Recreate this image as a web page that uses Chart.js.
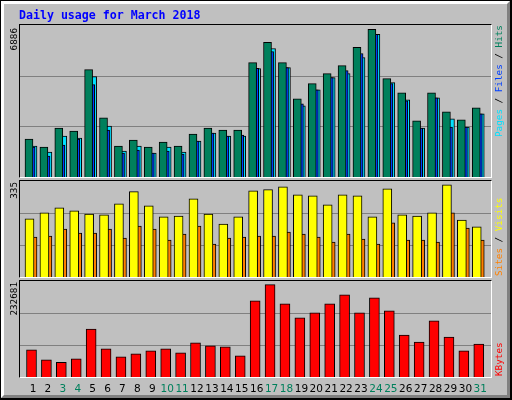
<!DOCTYPE html>
<html><head><meta charset="utf-8">
<script src="https://cdn.jsdelivr.net/npm/chart.js@4/dist/chart.umd.min.js"></script>
<style>
body{margin:0;background:#000;}
#outer{position:absolute;left:0;top:0;width:512px;height:400px;background:#000;}
#inner{position:absolute;left:1px;top:1px;width:503px;height:391px;background:#C0C0C0;border-top:3px solid #fff;border-left:3px solid #fff;border-right:3px solid #808080;border-bottom:3px solid #808080;}
.box{position:absolute;border-top:1px solid #000;border-left:1px solid #000;border-right:1px solid #fff;border-bottom:1px solid #fff;}
canvas{display:block;}
#ov{position:absolute;left:0;top:0;}
</style></head><body>
<div id="outer"><div id="inner"></div>
<div class="box" style="left:19px;top:24px;width:471px;height:152px;"><canvas id="c1" width="471" height="152" style="width:471px;height:152px"></canvas></div>
<div class="box" style="left:19px;top:180px;width:471px;height:96px;"><canvas id="c2" width="471" height="96" style="width:471px;height:96px"></canvas></div>
<div class="box" style="left:19px;top:280px;width:471px;height:96px;"><canvas id="c3" width="471" height="96" style="width:471px;height:96px"></canvas></div>
<canvas id="ov" width="512" height="400" style="width:512px;height:400px;pointer-events:none"></canvas>
</div>
<script>
const days = Array.from({length:31},(_,i)=>i+1);
const dayLabels = days.map(String);
const weekend = [3,4,10,11,17,18,24,25,31];
const hits = [1719,1354,2220,2084,4865,2676,1400,1673,1354,1582,1400,1947,2220,2130,2130,5185,6097,5185,3543,4227,4683,5048,5869,6690,4455,3817,2540,3817,2950,2585,3133];
const files = [1354,944,1446,1719,4182,2130,1081,1218,1081,1172,1035,1628,1993,1856,1902,4925,5687,4957,3315,3954,4501,4820,5595,6462,4227,3452,2220,3589,2266,2266,2859];
const pages = [1400,1126,1856,1765,4546,2312,1172,1400,1081,1354,1126,1628,1993,1856,1856,4911,5823,4957,3224,3954,4501,4683,5413,6462,4273,3498,2220,3589,2631,2266,2859];
const visits = [203,224,241,231,220,217,255,298,248,210,213,273,220,185,210,301,305,315,287,283,252,287,283,210,308,217,213,224,322,199,175];
const sites = [139,143,167,153,153,167,136,178,167,129,150,178,115,136,139,143,143,157,150,139,122,150,132,115,189,129,129,122,224,171,129];
const kbytes = [65900,41494,35798,43934,116345,68342,48816,56138,63461,68342,58579,82987,75665,73224,51257,184687,223740,177365,143194,155398,177365,199332,155398,192010,160279,101700,84614,135871,96818,63461,79733];
const maxTop = 6886, maxMid = 335, maxBot = 232681;

const XMIN = 0.128, XMAX = 31.72;
const gridPlugin = {id:'grid', beforeDatasetsDraw(ch){
  const c=ch.ctx, y=ch.scales.y, a=ch.chartArea, m=y.max;
  c.save(); c.strokeStyle='#808080'; c.lineWidth=1;
  [m/3, 2*m/3].forEach(v=>{const p=Math.round(y.getPixelForValue(v))+0.5;c.beginPath();c.moveTo(a.left,p);c.lineTo(a.right,p);c.stroke();});
  c.restore();
}};
function ds(vals, off, color, w){
  return {data: vals.map((v,i)=>({x:days[i]+off, y:v})), backgroundColor:color, borderColor:'#000', borderWidth:1, barThickness:w, grouped:false, borderSkipped:'bottom'};
}
function mk(id, sets, max){
  new Chart(document.getElementById(id), {type:'bar', data:{datasets:sets},
    options:{responsive:false, animation:false, events:[], layout:{padding:0},
      plugins:{legend:{display:false}, tooltip:{enabled:false}},
      scales:{x:{type:'linear', min:XMIN, max:XMAX, offset:false, display:false},
              y:{min:0, max:max, display:false}}},
    plugins:[gridPlugin]});
}
mk('c1',[ds(hits,-0.27,'#00805C',8), ds(files,-0.13,'#0040FF',8), ds(pages,0,'#00E0FF',8)], maxTop);
mk('c2',[ds(visits,-0.235,'#FFFF00',9), ds(sites,0,'#FF8000',8)], maxMid);
mk('c3',[ds(kbytes,-0.1,'#FF0000',10)], maxBot);

// overlay texts
const o = document.getElementById('ov').getContext('2d');
o.fillStyle='#0000FF'; o.font='bold 11.6px "DejaVu Sans Mono"'; o.textBaseline='alphabetic';
o.fillText('Daily usage for March 2018', 19, 19);
function vtext(txt, x, y, align, color){
  o.save(); o.translate(x,y); o.rotate(-Math.PI/2); o.font='9.3px "DejaVu Sans Mono"';
  o.textAlign=align; o.textBaseline='middle'; o.fillStyle=color; o.fillText(txt,0,0); o.restore();
}
vtext(String(maxTop), 15, 28, 'right', '#000');
vtext(String(maxMid), 15, 182, 'right', '#000');
vtext(String(maxBot), 15, 282, 'right', '#000');
function vmulti(parts, x, y){
  o.save(); o.translate(x,y); o.rotate(-Math.PI/2); o.font='9.3px "DejaVu Sans Mono"'; o.textBaseline='middle'; o.textAlign='left';
  let cx=0; parts.forEach(([t,c])=>{o.fillStyle=c;o.fillText(t,cx,0);cx+=o.measureText(t).width;}); o.restore();
}
vmulti([['Pages','#00E0FF'],[' / ','#000'],['Files','#0040FF'],[' / ','#000'],['Hits','#00805C']], 500, 137);
vmulti([['Sites','#FF8000'],[' / ','#000'],['Visits','#FFFF00']], 500, 276);
vmulti([['KBytes','#FF0000']], 500, 376);
o.font='10.5px "DejaVu Sans"'; o.textAlign='center'; o.textBaseline='middle';
dayLabels.forEach((t,i)=>{o.fillStyle=weekend.includes(days[i])?'#00805C':'#000'; o.fillText(t, 33+i*14.91, 389);});
</script></body></html>
